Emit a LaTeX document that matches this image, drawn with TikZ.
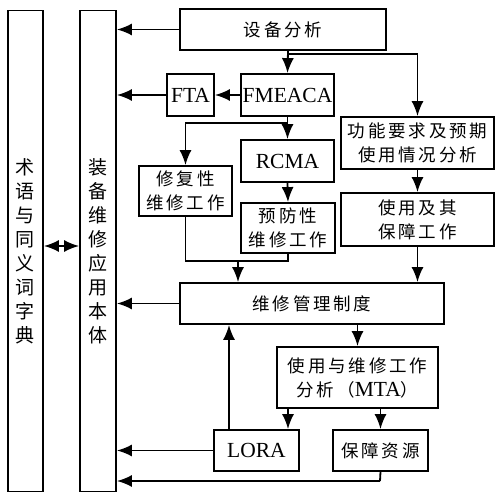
\documentclass[tikz,border=0pt]{standalone}
\usepackage{fontspec}
\setmainfont{Liberation Serif}
\newfontfamily\cjk[LetterSpace=16]{Noto Sans CJK SC}
\newfontfamily\cjkv{Noto Sans CJK SC}
\usetikzlibrary{arrows.meta}

\begin{document}
\begin{tikzpicture}[x=1pt,y=-1pt,
    box/.style={draw,line width=1.8pt,inner sep=0pt,align=center},
    cn/.style={font=\cjk\fontsize{17.5}{24}\selectfont},
    vt/.style={font=\cjkv\fontsize{19}{24}\selectfont},
    en/.style={font=\fontsize{21.5}{24}\selectfont},
    arr/.style={line width=1.8pt,-{Latex[length=15pt,width=12pt]}},
    darr/.style={line width=1.8pt,{Latex[length=15pt,width=12pt]}-{Latex[length=15pt,width=12pt]}},
    ln/.style={line width=1.8pt}]
    %
    % Frame
    \useasboundingbox (0,0) rectangle (496,492);
    %
    % Long vertical boxes
    \node[box,vt,minimum width=35,minimum height=481] (term) at (25.5,251)
        {术\\语\\与\\同\\义\\词\\字\\典};
    \node[box,vt,minimum width=36,minimum height=481] (onto) at (98,251)
        {装\\备\\维\\修\\应\\用\\本\\体};
    %
    % Analysis boxes
    \node[box,cn,minimum width=206,minimum height=41] (sbfx) at (283,29.5) {设备分析};
    \node[box,en,minimum width=47,minimum height=42] (fta) at (190.5,95) {FTA};
    \node[box,en,minimum width=93,minimum height=42] (fmeaca) at (287.5,95) {FMEACA};
    \node[box,cn,minimum width=153,minimum height=52] (gnyq) at (417.5,143)
        {功能要求及预期\\使用情况分析};
    \node[box,en,minimum width=93,minimum height=42] (rcma) at (287.5,161) {RCMA};
    \node[box,cn,minimum width=93,minimum height=50] (xfx) at (185.5,191)
        {修复性\\维修工作};
    \node[box,cn,minimum width=94,minimum height=50] (yfx) at (288,228)
        {预防性\\维修工作};
    \node[box,cn,minimum width=153,minimum height=53] (syjq) at (417.5,219.5)
        {使用及其\\保障工作};
    \node[box,cn,minimum width=264,minimum height=41] (glzd) at (312,303.5)
        {维修管理制度};
    \node[box,cn,minimum width=161,minimum height=61] (mta) at (357.5,377.5)
        {使用与维修工作\\分析（{\rmfamily\fontsize{21.5}{24}\selectfont MTA}）};
    \node[box,en,minimum width=85,minimum height=41] (lora) at (256.5,450.5) {LORA};
    \node[box,cn,minimum width=95,minimum height=41] (bzzy) at (380.5,450.5) {保障资源};
    %
    % Helper points
    \coordinate (split) at (288,54);   % branch under the equipment analysis
    \coordinate (merge) at (238,261);  % join of the two maintenance works
    \coordinate (ret) at (380,481);    % return line from support resources
    %
    % Arrows into the ontology
    \draw[darr] (term.east |- 0,246) -- (onto.west |- 0,246);
    \foreach \src in {sbfx,fta,glzd,lora}
    {
        \draw[arr] (\src.west) -- (\src.west -| onto.east);
    }
    \draw[ln] (bzzy.south) -- (ret);
    \draw[arr] (ret) -- (ret -| onto.east);
    %
    % Top part
    \draw[arr] (fmeaca.west) -- (fta.east);
    \draw[arr] (split |- sbfx.south) -- (fmeaca.north);
    \draw[arr] (split) -| (gnyq.north);
    \draw[arr] (fmeaca.south) -- (rcma.north);
    \draw[arr] (fmeaca.south) -- ++(0,6) -| (xfx.north);
    \draw[arr] (rcma.south) -- (yfx.north);
    \draw[arr] (gnyq.south) -- (syjq.north);
    \draw[arr] (syjq.south) -- (syjq.south |- glzd.north);
    %
    % Merge into the management system
    \draw[ln] (xfx.south) |- (yfx.south |- merge) -- (yfx.south);
    \draw[arr] (merge) -- (merge |- glzd.north);
    %
    % Bottom part
    \draw[arr] (glzd.south -| mta.north) -- (mta.north);
    \draw[arr] ([xshift=31.5]lora.north |- mta.south) -- ([xshift=31.5]lora.north);
    \draw[arr] (bzzy.north |- mta.south) -- (bzzy.north);
    \draw[arr] ([xshift=-27.5]lora.north) -- ([xshift=-27.5]lora.north |- glzd.south);
\end{tikzpicture}
\end{document}
